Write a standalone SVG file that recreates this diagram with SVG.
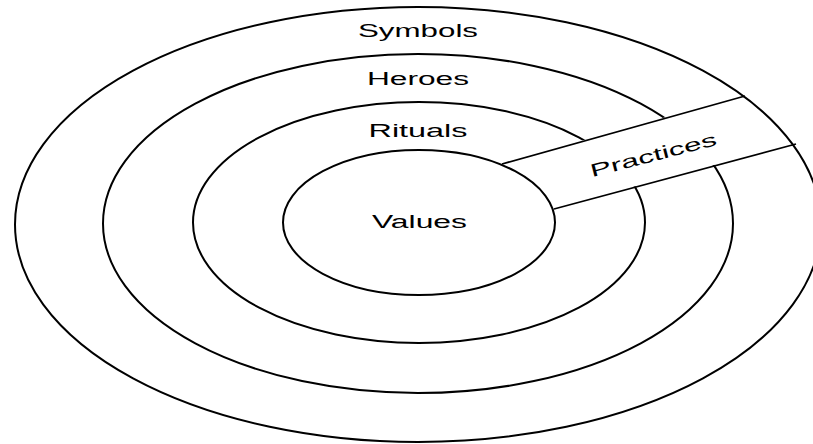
<svg xmlns="http://www.w3.org/2000/svg" width="813" height="444" viewBox="0 0 813 444">
<style>
.ring{fill:none;stroke:#000;stroke-width:2}
.band{fill:#fff;stroke:none}
.edge{stroke:#000;stroke-width:1.8;fill:none}
.lbl{font-family:"Liberation Sans",Arial,sans-serif;font-size:18px;fill:#000;text-anchor:middle}
</style>
<rect width="813" height="444" fill="#fff"/>
<g id="heroes">
<ellipse class="ring" cx="418" cy="223.5" rx="315" ry="169.5"/>
<text class="lbl" x="418" y="85" textLength="102" lengthAdjust="spacingAndGlyphs">Heroes</text>
</g>
<g id="rituals">
<ellipse class="ring" cx="419" cy="222.5" rx="226" ry="120.5"/>
<text class="lbl" x="418" y="137" textLength="99" lengthAdjust="spacingAndGlyphs">Rituals</text>
</g>
<g id="practices">
<polygon class="band" points="490,166.4 760,90.8 810,139.2 540,212"/>
<line class="edge" x1="502" y1="164" x2="745" y2="96"/>
<line class="edge" x1="554" y1="209" x2="796" y2="144"/>
<text class="lbl" transform="translate(655,161) rotate(-14.5)" x="0" y="0" textLength="130" lengthAdjust="spacingAndGlyphs">Practices</text>
</g>
<g id="symbols">
<ellipse class="ring" cx="418" cy="224.5" rx="403" ry="217.5"/>
<text class="lbl" x="418" y="37" textLength="120" lengthAdjust="spacingAndGlyphs">Symbols</text>
</g>
<g id="values">
<ellipse class="ring" cx="419" cy="222.5" rx="136" ry="72.5"/>
<text class="lbl" x="419.5" y="228" textLength="95" lengthAdjust="spacingAndGlyphs">Values</text>
</g>
</svg>
